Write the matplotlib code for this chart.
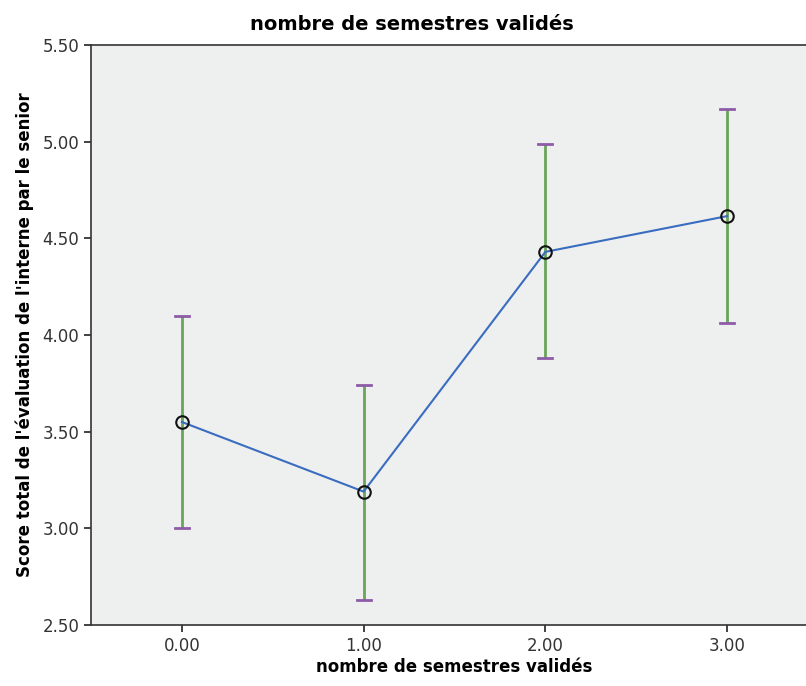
import numpy as np
import matplotlib.pyplot as plt

semestres = [0.0, 1.0, 2.0, 3.0]
moyennes = [3.55, 3.19, 4.43, 4.615]
hauts = [4.10, 3.74, 4.99, 5.17]
bas = [3.00, 2.63, 3.88, 4.06]

x = np.array(semestres)
m = np.array(moyennes)
err = [m - np.array(bas), np.array(hauts) - m]

fig = plt.figure(figsize=(8.06, 6.86), dpi=100)
ax = fig.add_axes([91/806, 61/686, 727/806, 580/686])
ax.set_facecolor("#eef0f0")

ax.errorbar(x, m, yerr=err, fmt="none", ecolor="#6aa35a", elinewidth=2,
            capsize=0, zorder=2)
# purple caps
for xi, lo, hi in zip(x, bas, hauts):
    ax.plot([xi - 0.038, xi + 0.038], [hi, hi], color="#8e5ba8", lw=2, zorder=3)
    ax.plot([xi - 0.038, xi + 0.038], [lo, lo], color="#8e5ba8", lw=2, zorder=3)

ax.plot(x, m, color="#3a6cc0", lw=1.5, zorder=4)
ax.plot(x, m, "o", ms=9, mfc="none", mec="#111111", mew=1.5, zorder=5)

ax.set_xlim(-0.5, 3.5)
ax.set_ylim(2.5, 5.5)
ax.set_xticks(semestres)
ax.set_xticklabels(["%.2f" % v for v in semestres])
ax.set_yticks([2.5, 3.0, 3.5, 4.0, 4.5, 5.0, 5.5])
ax.set_yticklabels(["%.2f" % v for v in [2.5, 3.0, 3.5, 4.0, 4.5, 5.0, 5.5]])
ax.tick_params(labelsize=12, colors="#222222", length=5, width=1.2,
               labelcolor="#333333")
for s in ["left", "bottom", "top"]:
    ax.spines[s].set_linewidth(1.2)
    ax.spines[s].set_color("#333333")
ax.spines["right"].set_visible(False)

ax.set_xlabel("nombre de semestres validés", fontsize=12, fontweight="bold",
              labelpad=2)
ax.set_ylabel("Score total de l'évaluation de l'interne par le senior",
              fontsize=12, fontweight="bold", labelpad=6)
fig.text(412/806, 1 - 24/686, "nombre de semestres validés", fontsize=14,
         fontweight="bold", ha="center", va="center")

plt.savefig("out.png", dpi=100)
